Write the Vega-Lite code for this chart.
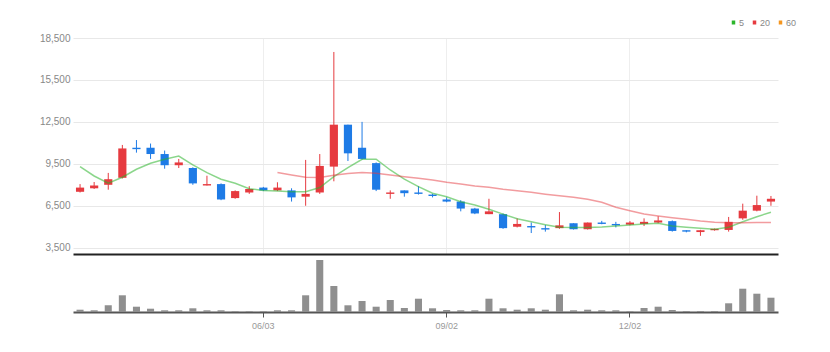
{
  "$schema": "https://vega.github.io/schema/vega-lite/v6.json",
  "autosize": {"type": "pad"},
  "padding": {"left": 39, "top": 18, "right": 5, "bottom": 5},
  "background": "#ffffff",
  "spacing": 1,
  "config": {
    "view": {"stroke": null},
    "font": "Liberation Sans, Arial, sans-serif",
    "axis": {"labelFont": "Liberation Sans, Arial, sans-serif"},
    "legend": {"labelFont": "Liberation Sans, Arial, sans-serif"}
  },
  "data": {
    "values": [
      {"d": "03/04", "o": 7500, "c": 7800, "h": 8050, "l": 7450, "v": 46000, "ma5": 9300, "ma20": null},
      {"d": "03/11", "o": 7750, "c": 7950, "h": 8200, "l": 7700, "v": 34000, "ma5": 8630, "ma20": null},
      {"d": "03/18", "o": 8000, "c": 8400, "h": 8850, "l": 7650, "v": 134000, "ma5": 8110, "ma20": null},
      {"d": "03/25", "o": 8500, "c": 10600, "h": 10850, "l": 8450, "v": 334000, "ma5": 8540, "ma20": null},
      {"d": "04/01", "o": 10650, "c": 10550, "h": 11200, "l": 10300, "v": 106000, "ma5": 9110, "ma20": null},
      {"d": "04/08", "o": 10650, "c": 10200, "h": 10950, "l": 9850, "v": 66000, "ma5": 9540, "ma20": null},
      {"d": "04/15", "o": 10200, "c": 9400, "h": 10450, "l": 9150, "v": 34000, "ma5": 9830, "ma20": null},
      {"d": "04/22", "o": 9400, "c": 9600, "h": 9850, "l": 9200, "v": 34000, "ma5": 10060, "ma20": null},
      {"d": "04/29", "o": 9200, "c": 8100, "h": 9250, "l": 8000, "v": 74000, "ma5": 9420, "ma20": null},
      {"d": "05/06", "o": 7950, "c": 8050, "h": 8650, "l": 7950, "v": 34000, "ma5": 8870, "ma20": null},
      {"d": "05/13", "o": 8050, "c": 6950, "h": 8100, "l": 6900, "v": 34000, "ma5": 8400, "ma20": null},
      {"d": "05/20", "o": 7050, "c": 7550, "h": 7600, "l": 7000, "v": 14000, "ma5": 8110, "ma20": null},
      {"d": "05/27", "o": 7450, "c": 7700, "h": 7900, "l": 7350, "v": 14000, "ma5": 7720, "ma20": null},
      {"d": "06/03", "o": 7800, "c": 7600, "h": 7850, "l": 7550, "v": 14000, "ma5": 7600, "ma20": null},
      {"d": "06/10", "o": 7600, "c": 7800, "h": 8180, "l": 7550, "v": 34000, "ma5": 7560, "ma20": 8880},
      {"d": "06/17", "o": 7600, "c": 7100, "h": 7750, "l": 6800, "v": 34000, "ma5": 7510, "ma20": 8700},
      {"d": "06/24", "o": 7150, "c": 7350, "h": 9780, "l": 6500, "v": 334000, "ma5": 7510, "ma20": 8540},
      {"d": "07/01", "o": 7450, "c": 9350, "h": 10200, "l": 7350, "v": 1040000, "ma5": 7800, "ma20": 8520},
      {"d": "07/08", "o": 9300, "c": 12300, "h": 17500, "l": 8250, "v": 520000, "ma5": 8580, "ma20": 8680},
      {"d": "07/15", "o": 12300, "c": 10250, "h": 12300, "l": 9700, "v": 134000, "ma5": 9230, "ma20": 8800},
      {"d": "07/22", "o": 10650, "c": 9850, "h": 12500, "l": 9800, "v": 220000, "ma5": 9820, "ma20": 8880},
      {"d": "07/29", "o": 9550, "c": 7650, "h": 9600, "l": 7550, "v": 106000, "ma5": 9830, "ma20": 8830},
      {"d": "08/05", "o": 7350, "c": 7450, "h": 7600, "l": 7000, "v": 240000, "ma5": 9060, "ma20": 8700},
      {"d": "08/12", "o": 7600, "c": 7400, "h": 7600, "l": 7150, "v": 80000, "ma5": 8400, "ma20": 8580},
      {"d": "08/19", "o": 7450, "c": 7350, "h": 7900, "l": 7300, "v": 266000, "ma5": 7870, "ma20": 8470},
      {"d": "08/26", "o": 7300, "c": 7200, "h": 7350, "l": 7100, "v": 74000, "ma5": 7400, "ma20": 8350},
      {"d": "09/02", "o": 6950, "c": 6800, "h": 7100, "l": 6750, "v": 40000, "ma5": 7150, "ma20": 8180},
      {"d": "09/09", "o": 6800, "c": 6300, "h": 6900, "l": 6100, "v": 34000, "ma5": 6790, "ma20": 8060},
      {"d": "09/16", "o": 6300, "c": 5950, "h": 6350, "l": 5900, "v": 34000, "ma5": 6560, "ma20": 7920},
      {"d": "09/23", "o": 5900, "c": 6100, "h": 7000, "l": 5900, "v": 266000, "ma5": 6250, "ma20": 7820},
      {"d": "09/30", "o": 5900, "c": 4900, "h": 5950, "l": 4850, "v": 74000, "ma5": 5900, "ma20": 7680},
      {"d": "10/07", "o": 5000, "c": 5200, "h": 5600, "l": 4950, "v": 46000, "ma5": 5570, "ma20": 7580},
      {"d": "10/14", "o": 5050, "c": 4950, "h": 5300, "l": 4550, "v": 74000, "ma5": 5360, "ma20": 7460},
      {"d": "10/21", "o": 4900, "c": 4800, "h": 5120, "l": 4650, "v": 46000, "ma5": 5150, "ma20": 7330},
      {"d": "10/28", "o": 4900, "c": 5100, "h": 6050, "l": 4850, "v": 354000, "ma5": 4960, "ma20": 7220},
      {"d": "11/04", "o": 5250, "c": 4820, "h": 5250, "l": 4800, "v": 34000, "ma5": 4940, "ma20": 7110},
      {"d": "11/11", "o": 4820, "c": 5300, "h": 5300, "l": 4800, "v": 46000, "ma5": 4940, "ma20": 6970},
      {"d": "11/18", "o": 5300, "c": 5200, "h": 5420, "l": 5180, "v": 34000, "ma5": 4980, "ma20": 6750},
      {"d": "11/25", "o": 5200, "c": 5100, "h": 5350, "l": 4950, "v": 34000, "ma5": 5050, "ma20": 6390},
      {"d": "12/02", "o": 5150, "c": 5300, "h": 5400, "l": 5100, "v": 14000, "ma5": 5130, "ma20": 6150},
      {"d": "12/09", "o": 5200, "c": 5350, "h": 5600, "l": 5050, "v": 80000, "ma5": 5200, "ma20": 5910},
      {"d": "12/16", "o": 5300, "c": 5450, "h": 5750, "l": 5250, "v": 106000, "ma5": 5250, "ma20": 5770},
      {"d": "12/23", "o": 5400, "c": 4700, "h": 5450, "l": 4650, "v": 40000, "ma5": 5050, "ma20": 5650},
      {"d": "12/30", "o": 4750, "c": 4650, "h": 4750, "l": 4600, "v": 20000, "ma5": 4960, "ma20": 5530},
      {"d": "01/06", "o": 4620, "c": 4750, "h": 4780, "l": 4350, "v": 20000, "ma5": 4890, "ma20": 5410},
      {"d": "01/13", "o": 4750, "c": 4850, "h": 4870, "l": 4720, "v": 20000, "ma5": 4820, "ma20": 5320},
      {"d": "01/20", "o": 4770, "c": 5350, "h": 5700, "l": 4650, "v": 174000, "ma5": 4960, "ma20": 5290},
      {"d": "01/27", "o": 5600, "c": 6150, "h": 6650, "l": 5500, "v": 466000, "ma5": 5360, "ma20": 5290},
      {"d": "02/03", "o": 6150, "c": 6550, "h": 7220, "l": 6100, "v": 366000, "ma5": 5720, "ma20": 5300},
      {"d": "02/10", "o": 6800, "c": 7000, "h": 7200, "l": 6500, "v": 286000, "ma5": 6030, "ma20": 5300}
    ]
  },
  "vconcat": [
    {
      "width": 705,
      "height": 216,
      "encoding": {
        "x": {
          "field": "d", "type": "ordinal", "sort": null,
          "scale": {"paddingInner": 0, "paddingOuter": 0},
          "axis": {"values": ["06/03", "09/02", "12/02"], "grid": true, "gridColor": "#eeeeee", "labels": false, "ticks": false, "domainColor": "#222222", "domainWidth": 2, "title": null, "bandPosition": 0.5}
        }
      },
      "layer": [
        {
          "mark": {"type": "rule", "strokeWidth": 1},
          "encoding": {
            "y": {"field": "l", "type": "quantitative", "title": null,
              "scale": {"domain": [3050, 18500], "nice": false, "zero": false},
              "axis": {"values": [3500, 6500, 9500, 12500, 15500, 18500], "format": ",.0f", "title": null, "domain": false, "ticks": false, "gridColor": "#e8e8e8", "labelColor": "#888888", "labelFontSize": 10, "labelPadding": 3}},
            "y2": {"field": "h"},
            "color": {"condition": {"test": "datum.c >= datum.o", "value": "#e63a3f"}, "value": "#1e7be6"}
          }
        },
        {
          "mark": {"type": "bar", "width": {"band": 0.58}},
          "encoding": {
            "y": {"field": "o", "type": "quantitative", "title": null},
            "y2": {"field": "c"},
            "color": {"condition": {"test": "datum.c >= datum.o", "value": "#e63a3f"}, "value": "#1e7be6"}
          }
        },
        {
          "mark": {"type": "line", "strokeWidth": 1.5, "opacity": 0.55},
          "encoding": {
            "y": {"field": "ma5", "type": "quantitative", "title": null},
            "color": {
              "datum": "5", "type": "nominal",
              "scale": {"domain": ["5", "20", "60"], "range": ["#2bb52b", "#e63a3f", "#f5961e"]},
              "legend": {
                "title": null, "orient": "none", "legendX": 656, "legendY": -20, "direction": "horizontal",
                "symbolType": "M0,-1L0,1", "symbolSize": 16, "symbolStrokeWidth": 3.5, "symbolOpacity": 1,
                "labelFontSize": 9, "labelColor": "#888888", "columnPadding": 2, "labelOffset": 1, "gridAlign": "none",
                "encode": {"symbols": {"update": {"opacity": {"value": 1}, "strokeOpacity": {"value": 1}}}}
              }
            }
          }
        },
        {
          "mark": {"type": "line", "strokeWidth": 1.5, "opacity": 0.5},
          "encoding": {
            "y": {"field": "ma20", "type": "quantitative", "title": null},
            "color": {"datum": "20", "type": "nominal"}
          }
        }
      ]
    },
    {
      "width": 705,
      "height": 57,
      "mark": {"type": "bar", "width": {"band": 0.5}, "color": "#8f8f8f"},
      "encoding": {
        "x": {
          "field": "d", "type": "ordinal", "sort": null,
          "scale": {"paddingInner": 0, "paddingOuter": 0},
          "axis": {"values": ["06/03", "09/02", "12/02"], "grid": false, "labelColor": "#999999", "labelFontSize": 9, "labelAngle": 0, "tickColor": "#555555", "tickSize": 5, "domainColor": "#555555", "domainWidth": 2, "title": null, "labelPadding": 4, "bandPosition": 0.5}
        },
        "y": {"field": "v", "type": "quantitative", "scale": {"domain": [0, 1140000]}, "axis": null}
      }
    }
  ]
}
